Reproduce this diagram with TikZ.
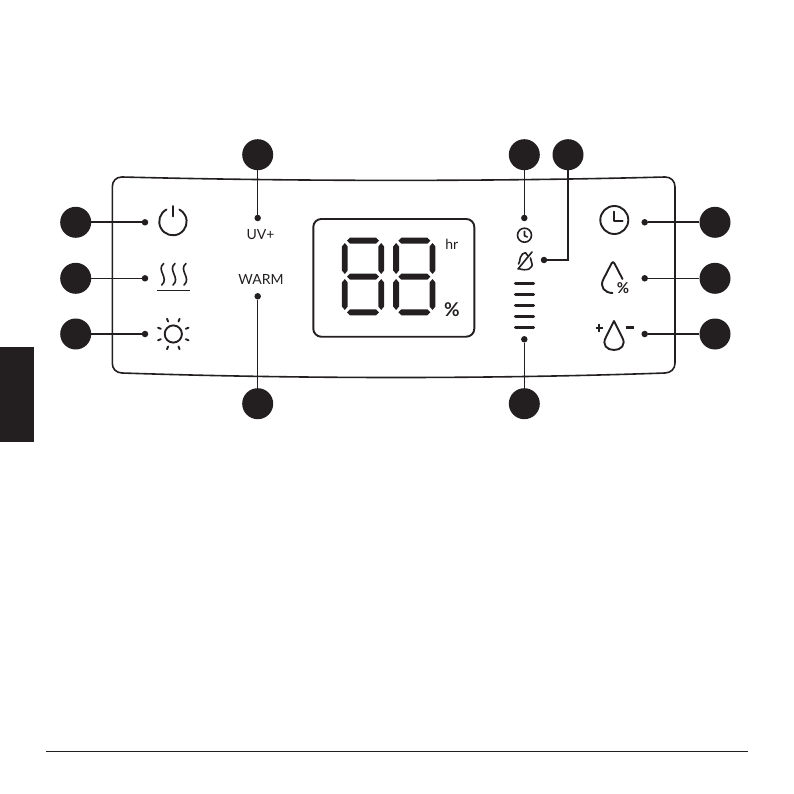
\documentclass[tikz,border=0pt]{standalone}
\usepackage{fontspec}
\usetikzlibrary{calc}
\setmainfont{Lato}
\definecolor{ink}{HTML}{231F20}
\tikzset{
  badge/.style={circle,fill=ink,minimum size=31pt,inner sep=0pt},
  pin/.style={circle,fill=ink,minimum size=6.5pt,inner sep=0pt},
  heavy/.style={draw=ink,line width=2.1pt},
  light/.style={draw=ink,line width=1.3pt},
  icon/.style={draw=ink,line width=1.9pt,line cap=round,line join=round},
  thinicon/.style={draw=ink,line width=1.6pt,line cap=round,line join=round},
  lab/.style={text=ink,inner sep=0pt,font=\fontsize{14}{14}\selectfont}
}
\newcommand{\hseg}[2]{\fill[ink] (#1-16,#2) -- (#1-13,#2-3) -- (#1+13,#2-3) -- (#1+16,#2) -- (#1+13,#2+3) -- (#1-13,#2+3) -- cycle;}
\newcommand{\vseg}[2]{\fill[ink] (#1,#2-15.5) -- (#1+2.9,#2-12) -- (#1+2.9,#2+12) -- (#1,#2+15.5) -- (#1-2.9,#2+12) -- (#1-2.9,#2-12) -- cycle;}
\newcommand{\digit}[1]{%
  \hseg{#1}{240.7}\hseg{#1}{276.7}\hseg{#1}{312.3}%
  \vseg{#1-18.2}{258.5}\vseg{#1+18.2}{258.5}%
  \vseg{#1-18.2}{294.5}\vseg{#1+18.2}{294.5}}
\begin{document}
\begin{tikzpicture}[x=1pt,y=-1pt]
\useasboundingbox (0,0) rectangle (794,794);
% tab and foot rule
\fill[ink] (0,347) rectangle (34,442);
\draw[ink,line width=0.8pt] (46,751) -- (748,751);
% panel
\draw[ink,line width=1.6pt] (122,177)
  .. controls (300,181.5) and (494,181.5) .. (665,177)
  .. controls (671,177) and (675,181) .. (675,187)
  -- (675,363)
  .. controls (675,369) and (671,372.7) .. (665,373)
  .. controls (494,379) and (300,379) .. (122,373)
  .. controls (116,372.7) and (112.3,369) .. (112.3,363)
  -- (112.3,187)
  .. controls (112.3,181) and (116,177) .. (122,177) -- cycle;
% badges
\node[badge] (bA) at (75.7,222.3) {};
\node[badge] (bB) at (75.7,278.3) {};
\node[badge] (bC) at (75.7,334) {};
\node[badge] (bD) at (257.7,154.7) {};
\node[badge] (bE) at (257.7,403.7) {};
\node[badge] (bF) at (524.3,154.7) {};
\node[badge] (bG) at (568,154.7) {};
\node[badge] (bH) at (524.3,403.7) {};
\node[badge] (bI) at (715,222.3) {};
\node[badge] (bJ) at (715,278.3) {};
\node[badge] (bK) at (715,334) {};
% pins
\node[pin] (pA) at (145,222.3) {};
\node[pin] (pB) at (145,278.3) {};
\node[pin] (pC) at (145,334) {};
\node[pin] (pD) at (257.7,218) {};
\node[pin] (pE) at (257.7,296.3) {};
\node[pin] (pF) at (524.3,218) {};
\node[pin] (pG) at (544,260) {};
\node[pin] (pH) at (524.3,339.3) {};
\node[pin] (pI) at (644.7,222.3) {};
\node[pin] (pJ) at (644.7,278.3) {};
\node[pin] (pK) at (644.7,334) {};
% connectors
\draw[heavy] (bA) -- (pA);
\draw[light] (bB) -- (pB);
\draw[heavy] (bC) -- (pC);
\draw[light] (bD) -- (pD);
\draw[light] (bE) -- (pE);
\draw[light] (bF) -- (pF);
\draw[heavy] (bG) |- (pG);
\draw[light] (bH) -- (pH);
\draw[heavy] (bI) -- (pI);
\draw[light] (bJ) -- (pJ);
\draw[heavy] (bK) -- (pK);
% labels
\node[lab] (uv) at (260.5,234.5) {UV+};
\node[lab] (warm) at (261,279) {WARM};
\node[lab,font=\fontsize{14}{14}\selectfont] (hr) at (451.7,244) {hr};
\node[lab,font=\fontsize{19}{19}\selectfont\bfseries] (pc) at (452,309.5) {\%};
% display
\draw[ink,line width=1.9pt,rounded corners=8pt] (313.3,219) rectangle (474.3,336.7);
\digit{363}
\digit{414.3}
% power
\draw[icon] (166.5,209.5) arc[start angle=-118,end angle=-422,radius=13.7];
\draw[icon] (173.3,206) -- (173.3,216.5);
% heat
\foreach \x in {162.7,174,185}{
  \draw[thinicon] (\x+1,263.5) .. controls (\x-7,270) and (\x+7,278) .. (\x-1,285);
}
\draw[ink,line width=1.5pt] (157.3,290.3) -- (189.7,290.3);
% sun
\draw[icon] (173.3,334) circle[radius=8.6];
\foreach \a in {22.5,67.5,112.5,157.5,202.5,247.5,292.5,337.5}{
  \draw[icon] ($(173.3,334)+(\a:13.5)$) -- ($(173.3,334)+(\a:16.5)$);
}
% small clock
\draw[thinicon] (524.5,235.2) circle[radius=7];
\draw[thinicon] (524.5,231.3) -- (524.5,235.8) -- (527.3,237);
% bell slash
\draw[thinicon] (518,269) -- (532,252);
\draw[thinicon] (518.5,264) .. controls (521,260) and (518.5,259) .. (522.5,254) -- (525.5,252.7) -- (528,256);
\draw[thinicon] (518.5,268.5) .. controls (526,271.5) and (534.5,269) .. (531.5,262) -- (530.5,258);
% bars
\foreach \y in {283.7,294.7,305.7,316.7,327.3}{
  \draw[ink,line width=3.1pt,line cap=round] (515.5,\y) -- (533.5,\y);
}
% big clock
\draw[icon] (614.3,220) circle[radius=14];
\draw[icon] (614.3,211.7) -- (614.3,220.7) -- (622.7,220.7);
% drop %
\draw[icon] (622.5,279) -- (614.5,263.5) .. controls (613.5,261.5) and (612.5,261.5) .. (611.5,263.5)
  -- (603.5,279) .. controls (599,287) and (605,293) .. (612.5,293);
\node[lab,font=\fontsize{15}{15}\selectfont\bfseries] (dp) at (623,288.5) {\%};
% drop + -
\draw[icon] (614,321) -- (606,337) .. controls (601.5,345) and (607,350) .. (614,350)
  .. controls (621,350) and (626.5,345) .. (622,337) -- cycle;
\draw[ink,line width=2.1pt] (595.5,328) -- (603,328) (599.3,324.2) -- (599.3,331.8);
\draw[ink,line width=2.1pt] (626,327.5) -- (634,327.5);
\end{tikzpicture}
\end{document}
